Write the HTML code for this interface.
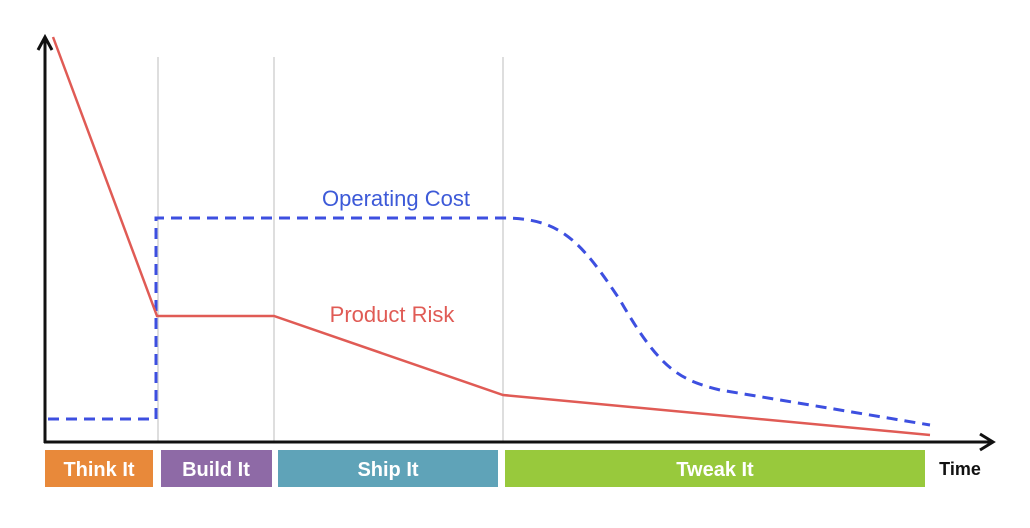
<!DOCTYPE html>
<html><head><style>
body{margin:0;background:#fff;}
svg{display:block;font-family:"Liberation Sans",sans-serif;}
</style></head><body>
<svg width="1030" height="528" viewBox="0 0 1030 528">
<g stroke="#d4d4d4" stroke-width="1.5">
<line x1="158" y1="57" x2="158" y2="442"/>
<line x1="274" y1="57" x2="274" y2="442"/>
<line x1="503" y1="57" x2="503" y2="442"/>
</g>
<path d="M45,443 L45,38 M38,50 L45,37 L52,50" stroke="#111" stroke-width="3" fill="none"/>
<path d="M44,442 L992,442 M980,434 L993,442 L980,450" stroke="#111" stroke-width="3" fill="none"/>
<path d="M48,419 L156,419 L156,218 L503,218 C560,218 580,240 620,300 C660,370 680,380 720,390 L930,425" stroke="#3d4fe0" stroke-width="3" stroke-dasharray="11,7" fill="none"/>
<path d="M53,37 L157,316 L274,316 L503,395 L930,435" stroke="#e05b55" stroke-width="2.5" fill="none"/>
<text x="396" y="206" font-size="22" fill="#3d5ad8" text-anchor="middle">Operating Cost</text>
<text x="392" y="322" font-size="22" fill="#e05b55" text-anchor="middle">Product Risk</text>
<rect x="45" y="450" width="108" height="37" fill="#e8893a"/>
<rect x="161" y="450" width="111" height="37" fill="#8e6aa6"/>
<rect x="278" y="450" width="220" height="37" fill="#5fa3b8"/>
<rect x="505" y="450" width="420" height="37" fill="#98c93c"/>
<g fill="#fff" font-size="20" font-weight="bold" text-anchor="middle">
<text x="99" y="476">Think It</text>
<text x="216" y="476">Build It</text>
<text x="388" y="476">Ship It</text>
<text x="715" y="476">Tweak It</text>
</g>
<text x="960" y="475" font-size="18" font-weight="bold" fill="#111" text-anchor="middle">Time</text>
</svg>
</body></html>
